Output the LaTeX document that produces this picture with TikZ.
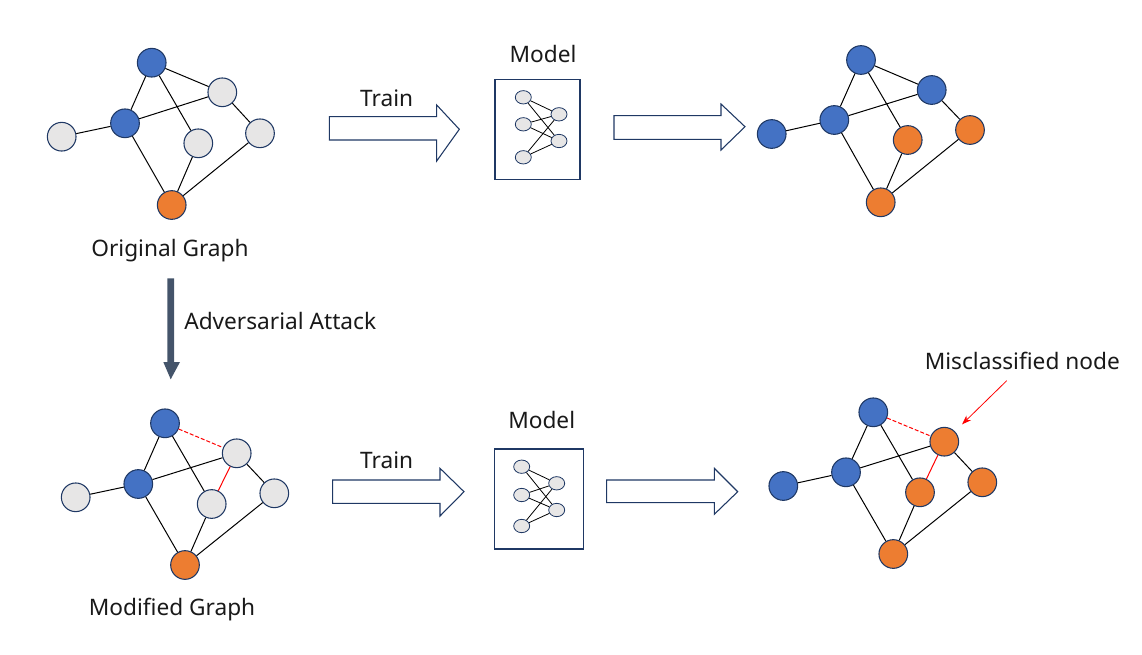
\documentclass[tikz,border=0pt]{standalone}
\usepackage{fontspec}
\setmainfont{Noto Sans}
\usetikzlibrary{shapes.geometric,arrows.meta}
\definecolor{nblue}{HTML}{4472C4}
\definecolor{norange}{HTML}{ED7D31}
\definecolor{ngray}{HTML}{E7E6E6}
\definecolor{nline}{HTML}{1F3864}
\definecolor{slate}{HTML}{44546A}
\definecolor{ared}{HTML}{FF0000}
\tikzset{
  gnode/.style={circle,draw=nline,line width=0.8pt,minimum size=21.5pt,inner sep=0pt},
  bluen/.style={gnode,fill=nblue},
  orangen/.style={gnode,fill=norange},
  grayn/.style={gnode,fill=ngray},
  mnode/.style={ellipse,draw=nline,line width=0.6pt,fill=ngray,minimum width=12pt,minimum height=10pt,inner sep=0pt},
  edge/.style={black,line width=0.75pt},
  medge/.style={black,line width=0.6pt},
  redsolid/.style={ared,line width=0.75pt},
  reddash/.style={ared,line width=0.75pt,dash pattern=on 3pt off 1.5pt},
  box/.style={draw=nline,line width=0.8pt},
  blockarrow/.style={draw=nline,line width=0.8pt,fill=white,line join=miter},
  lbl/.style={font=\fontsize{17}{20}\selectfont,inner sep=0pt,text=black!90},
}
\begin{document}
\begin{tikzpicture}[x=0.75pt,y=-0.75pt]
\useasboundingbox (0,0) rectangle (1142,654);

% ---------- Top-left original graph ----------
\node[bluen]   (a1) at (151.7,62.7) {};
\node[grayn]   (a2) at (222.3,92.3) {};
\node[bluen]   (a3) at (125,123.3) {};
\node[grayn]   (a4) at (61.7,136.7) {};
\node[grayn]   (a5) at (198.3,143.3) {};
\node[grayn]   (a6) at (260,133.3) {};
\node[orangen] (a7) at (171.7,205) {};
\draw[edge] (a1)--(a2) (a1)--(a3) (a1)--(a5) (a3)--(a4) (a3)--(a2) (a3)--(a7) (a5)--(a7) (a2)--(a6) (a6)--(a7);
\node[lbl] (lorig) at (170,251) {Original Graph};

% ---------- Top model ----------
\node[lbl] (lmod1) at (543,54) {Model};
\node[box,minimum width=63.75pt,minimum height=75pt,inner sep=0pt] (box1) at (537.5,129.3) {};
\node[mnode] (m1a) at (523.3,97.3) {};
\node[mnode] (m1b) at (523.3,124.3) {};
\node[mnode] (m1c) at (523.3,157.3) {};
\node[mnode] (m1d) at (559,114.3) {};
\node[mnode] (m1e) at (559,141) {};
\foreach \l in {m1a,m1b,m1c}{\foreach \r in {m1d,m1e}{\draw[medge] (\l)--(\r);}}

% ---------- Top block arrows ----------
\draw[blockarrow] (329.3,116.7) -- (436.7,116.7) -- (436.7,105) -- (459.3,129.3) -- (436.7,161) -- (436.7,140) -- (329.3,140) -- cycle;
\node[lbl] (ltr1) at (386.7,98.5) {Train};
\draw[blockarrow] (614,115.7) -- (721,115.7) -- (721,104) -- (745,126.7) -- (721,150) -- (721,139.3) -- (614,139.3) -- cycle;

% ---------- Top-right classified graph ----------
\node[bluen]   (b1) at (861,60) {};
\node[bluen]   (b2) at (931.7,90) {};
\node[bluen]   (b3) at (834.3,120) {};
\node[bluen]   (b4) at (771.7,134) {};
\node[orangen] (b5) at (907.7,140) {};
\node[orangen] (b6) at (970,130) {};
\node[orangen] (b7) at (880.7,202.3) {};
\draw[edge] (b1)--(b2) (b1)--(b3) (b1)--(b5) (b3)--(b4) (b3)--(b2) (b3)--(b7) (b5)--(b7) (b2)--(b6) (b6)--(b7);

% ---------- Adversarial attack arrow ----------
\fill[slate] (167.3,278.3) -- (174,278.3) -- (174,362) -- (180,362) -- (170.7,379.3) -- (163.3,362) -- (167.3,362) -- cycle;
\node[lbl,anchor=west] (ladv) at (184,320.5) {Adversarial Attack};

% ---------- Bottom-left modified graph ----------
\node[bluen]   (c1) at (165,423.3) {};
\node[grayn]   (c2) at (236.7,453.3) {};
\node[bluen]   (c3) at (138.3,484) {};
\node[grayn]   (c4) at (75.7,497.3) {};
\node[grayn]   (c5) at (211.7,504) {};
\node[grayn]   (c6) at (274.3,493.3) {};
\node[orangen] (c7) at (185,565) {};
\draw[edge] (c1)--(c3) (c1)--(c5) (c3)--(c4) (c3)--(c2) (c3)--(c7) (c5)--(c7) (c2)--(c6) (c6)--(c7);
\draw[reddash] (c1)--(c2);
\draw[redsolid] (c2)--(c5);
\node[lbl] (lmodg) at (172,610) {Modified Graph};

% ---------- Bottom model ----------
\node[lbl] (lmod2) at (541.7,420) {Model};
\node[box,minimum width=66.75pt,minimum height=75pt,inner sep=0pt] (box2) at (538.8,499) {};
\node[mnode] (m2a) at (521.7,466.7) {};
\node[mnode] (m2b) at (521.7,495) {};
\node[mnode] (m2c) at (521.7,526) {};
\node[mnode] (m2d) at (556.7,483.3) {};
\node[mnode] (m2e) at (556.7,510) {};
\foreach \l in {m2a,m2b,m2c}{\foreach \r in {m2d,m2e}{\draw[medge] (\l)--(\r);}}

% ---------- Bottom block arrows ----------
\draw[blockarrow] (332.7,480) -- (440,480) -- (440,468.3) -- (464,491.7) -- (440,516) -- (440,503.3) -- (332.7,503.3) -- cycle;
\node[lbl] (ltr2) at (386.7,460) {Train};
\draw[blockarrow] (606.7,480) -- (714.3,480) -- (714.3,468.3) -- (737.7,491.7) -- (714.3,514.3) -- (714.3,502.7) -- (606.7,502.7) -- cycle;

% ---------- Bottom-right misclassified graph ----------
\node[bluen]   (d1) at (873.3,412.3) {};
\node[orangen] (d2) at (944.3,441.7) {};
\node[bluen]   (d3) at (846,472.3) {};
\node[bluen]   (d4) at (783.3,486) {};
\node[orangen] (d5) at (920,492.3) {};
\node[orangen] (d6) at (982.3,482.3) {};
\node[orangen] (d7) at (893.3,554) {};
\draw[edge] (d1)--(d3) (d1)--(d5) (d3)--(d4) (d3)--(d2) (d3)--(d7) (d5)--(d7) (d2)--(d6) (d6)--(d7);
\draw[reddash] (d1)--(d2);
\draw[redsolid] (d2)--(d5);
\node[lbl] (lmis) at (1022.3,361) {Misclassified node};
\coordinate (mstart) at (1006.7,380.7);
\draw[ared,line width=0.6pt,-{Stealth[length=7pt,width=5pt]},shorten >=7.5pt] (mstart) -- (d2);

\end{tikzpicture}
\end{document}
